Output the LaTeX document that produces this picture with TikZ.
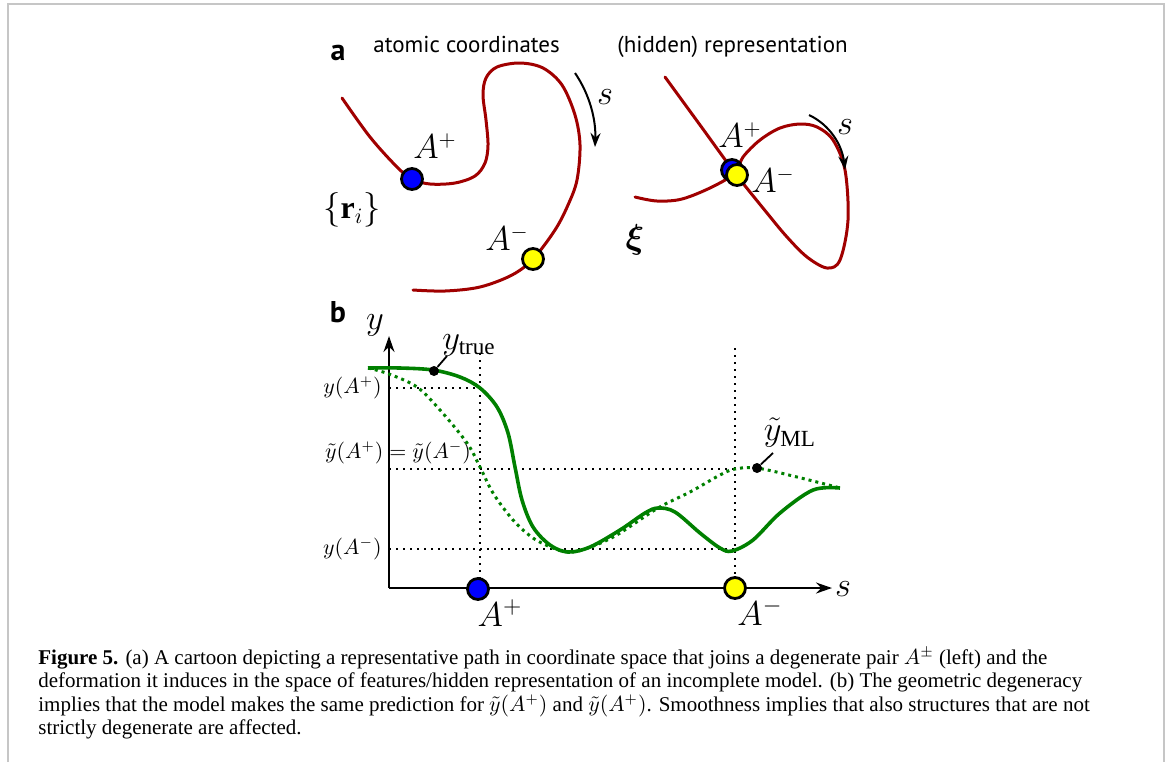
\documentclass[tikz,border=0pt]{standalone}
\usepackage{fontspec}
\usepackage{amsmath}
\usepackage{bm}
\setmainfont{Liberation Serif}
\newfontfamily\panelfont{PT Sans}
\usetikzlibrary{arrows.meta}
\definecolor{pathred}{HTML}{A00000}
\definecolor{fitgreen}{HTML}{008000}
\definecolor{framegray}{HTML}{C6C6C6}
\definecolor{atomblue}{HTML}{0000FF}
\definecolor{atomyellow}{HTML}{FFFF00}

\begin{document}
\begin{tikzpicture}[
  x=0.5pt,
  y=-0.5pt,
  every node/.style={inner sep=0pt},
  heading/.style={font=\panelfont\fontsize{11.5}{14}\selectfont, anchor=base west},
  panellabel/.style={font=\panelfont\bfseries\fontsize{15}{18}\selectfont, anchor=base},
  bigmath/.style={font=\fontsize{16}{19}\selectfont},
  axismath/.style={font=\fontsize{10.5}{12}\selectfont},
  curvemath/.style={font=\fontsize{16.5}{19}\selectfont},
  redpath/.style={pathred, line width=1.5pt, line cap=round},
  truecurve/.style={fitgreen, line width=1.8pt},
  mlcurve/.style={fitgreen, line width=1.5pt, dash pattern=on 1.5pt off 2pt},
  guide/.style={black, line width=0.9pt, dash pattern=on 0.9pt off 2.6pt},
  atom/.style={circle, draw=black, line width=1.4pt, minimum size=10.5pt},
  sarrow/.style={black, line width=1pt, -{Stealth[length=7pt,width=5pt]}},
  axis/.style={black, line width=1pt, -{Stealth[length=8pt,width=5.5pt]}},
  pindot/.style={circle, fill=black, minimum size=5pt},
  captionline/.style={font=\fontsize{10.5}{12}\selectfont, anchor=base west}
]
  \useasboundingbox (0,0) rectangle (1170,762);
  \draw[framegray, line width=1pt] (7.5,762) -- (7.5,3.5) -- (1163.5,3.5) -- (1163.5,762);

  % panel a
  \node[panellabel] (labela) at (338,60) {a};
  \node[heading] (headleft) at (373,52) {atomic coordinates};
  \node[heading] (headright) at (617,52) {(hidden) representation};

  \draw[redpath] plot[smooth, tension=0.55] coordinates {
    (342,98) (370,137) (397,167) (412,179) (430,184) (455,183) (475,176)
    (485,163) (488,145) (486,120) (483,95) (486,78) (497,67) (520,63)
    (543,68) (562,85) (575,115) (580,145) (577,180) (568,205) (555,230)
    (533,259) (512,275) (480,287) (445,291) (413,290)};
  \draw[redpath] plot[smooth, tension=0.55] coordinates {
    (665,77) (700,125) (735,173) (767,213) (787,237) (807,257) (827,268)
    (840,260) (848,220) (845,170) (833,140) (817,127) (800,124) (780,128)
    (760,140) (743,157) (735,173) (712,187) (682,199) (657,201)
    (635,197)};

  \node[atom, fill=atomblue] (plusleft) at (412,179) {};
  \node[atom, fill=atomyellow] (minusleft) at (533,259) {};
  \node[atom, fill=atomblue] (plusright) at (732,170) {};
  \node[atom, fill=atomyellow] (minusright) at (737,175) {};

  \node[bigmath] (lblplusleft) at (435,146) {$A^{+}$};
  \node[bigmath] (lblminusleft) at (507,238) {$A^{-}$};
  \node[bigmath] (lblcoords) at (352,210) {$\{\mathbf{r}_i\}$};
  \node[bigmath] (lblplusright) at (740,135) {$A^{+}$};
  \node[bigmath] (lblminusright) at (773,180) {$A^{-}$};
  \node[bigmath] (lblfeat) at (635,240) {$\bm{\xi}$};

  \coordinate (sleftstart) at (575,73);
  \coordinate (sleftend) at (595,147);
  \draw[sarrow] (sleftstart) .. controls (590,95) and (596,120) .. (sleftend);
  \node[bigmath] (lblsleft) at (605,97) {$s$};
  \coordinate (srightstart) at (809,115);
  \coordinate (srightend) at (845,170);
  \draw[sarrow] (srightstart) .. controls (830,125) and (842,145) .. (srightend);
  \node[bigmath] (lblsright) at (845,127) {$s$};

  % panel b
  \node[panellabel] (labelb) at (338,322) {b};
  \coordinate (origin) at (389,588);
  \coordinate (ytip) at (389,336);
  \coordinate (stip) at (832,588);

  \draw[guide] (480,353) -- (480,588);
  \draw[guide] (735,348) -- (735,588);
  \draw[guide] (389,388) -- (480,388);
  \draw[guide] (389,469) -- (735,469);
  \draw[guide] (389,549) -- (735,549);

  \draw[axis] (origin) -- (ytip);
  \draw[axis] (origin) -- (stip);
  \node[curvemath] (lbly) at (375,325) {$y$};
  \node[curvemath] (lbls) at (843,589) {$s$};

  \node[axismath, anchor=east] (lblyplus) at (382,388) {$y(A^{+})$};
  \node[axismath] (lblytilde) at (398,453) {$\tilde{y}(A^{+})=\tilde{y}(A^{-})$};
  \node[axismath, anchor=east] (lblyminus) at (382,549) {$y(A^{-})$};

  \draw[truecurve] plot[smooth, tension=0.55] coordinates {
    (368,368) (400,368) (433,370) (460,377) (480,388) (497,407) (508,433)
    (515,467) (522,500) (533,527) (550,545) (568,552) (590,547) (620,530)
    (645,513) (658,508) (675,512) (700,533) (720,548) (732,551) (753,540)
    (780,513) (813,490) (840,488)};
  \draw[mlcurve] plot[smooth, tension=0.55] coordinates {
    (368,368) (389,374) (417,387) (440,410) (467,443) (480,467) (493,493)
    (513,520) (533,538) (553,548) (568,552) (585,549) (615,536) (658,508)
    (690,492) (720,475) (735,469) (757,468) (797,477) (840,488)};

  \node[atom, fill=atomblue] (plusaxis) at (478,589) {};
  \node[atom, fill=atomyellow] (minusaxis) at (735,588) {};
  \node[bigmath, font=\fontsize{17}{20}\selectfont] (lblplusaxis) at (500,613) {$A^{+}$};
  \node[bigmath, font=\fontsize{17}{20}\selectfont] (lblminusaxis) at (760,612) {$A^{-}$};

  \node[curvemath] (lbltrue) at (469,345) {$y_{\mathrm{true}}$};
  \node[pindot] (truedot) at (434,371) {};
  \coordinate (truetick) at (447,356);
  \draw[black, line width=0.9pt] (truetick) -- (truedot);

  \node[curvemath] (lblml) at (790,433) {$\tilde{y}_{\mathrm{ML}}$};
  \node[pindot] (mldot) at (757,468) {};
  \coordinate (mltick) at (773,453);
  \draw[black, line width=0.9pt] (mltick) -- (mldot);

  % caption
  \node[captionline] (capone) at (38,664) {\textbf{Figure 5.} (a) A cartoon depicting a representative path in coordinate space that joins a degenerate pair $A^{\pm}$ (left) and the};
  \node[captionline] (captwo) at (38,687) {deformation it induces in the space of features/hidden representation of an incomplete model. (b) The geometric degeneracy};
  \node[captionline] (capthree) at (38,711) {implies that the model makes the same prediction for $\tilde{y}(A^{+})$ and $\tilde{y}(A^{+})$. Smoothness implies that also structures that are not};
  \node[captionline] (capfour) at (38,734) {strictly degenerate are affected.};
\end{tikzpicture}
\end{document}
